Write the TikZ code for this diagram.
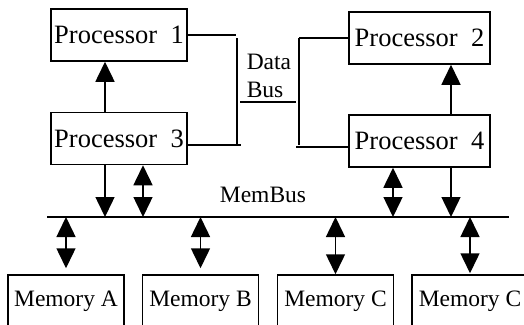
\documentclass[tikz,border=0pt]{standalone}
\usepackage{fontspec}
\setmainfont{Liberation Serif}
\usetikzlibrary{arrows.meta}

\begin{document}
\begin{tikzpicture}
[x=1pt,y=-1pt,line width=1.5pt,>={Triangle[length=20pt,width=19pt]},
proc/.style={rectangle,draw=black,line width=1.5pt,inner sep=0pt,minimum height=52pt,font=\fontsize{26.5}{30}\selectfont},
mem/.style={rectangle,draw=black,line width=1.5pt,inner sep=0pt,minimum width=116pt,minimum height=52pt,font=\fontsize{23.5}{28}\selectfont},
lbl/.style={inner sep=0pt,font=\fontsize{23.5}{28}\selectfont}]
\useasboundingbox (0,0) rectangle (524,324);
\clip (0,0) rectangle (524,324);
\fill[white] (0,0) rectangle (524,324);
\node[proc,minimum width=136pt] at (119,35) (p1) {Processor~~1};
\node[proc,minimum width=136pt] at (119,138.5) (p3) {Processor~~3};
\node[proc,minimum width=141pt] at (419.5,38) (p2) {Processor~~2};
\node[proc,minimum width=141pt] at (419.5,141) (p4) {Processor~~4};
\node[mem] at (66,301) (ma) {Memory A};
\node[mem] at (200.5,301) (mb) {Memory B};
\node[mem] at (335.5,301) (mc) {Memory C};
\node[mem] at (470,301) (md) {Memory C};
\node[lbl,anchor=north west,align=left] at (246,53) (db) {Data\\Bus};
\node[lbl,anchor=base] at (263,202) (mbus) {MemBus};
% data bus
\coordinate (dl1) at (237,38);
\coordinate (dl2) at (237,144);
\coordinate (dr1) at (299,38);
\coordinate (dr2) at (299,145);
\coordinate (dm) at (240,102);
\draw (p1.east) -- ++(48,0);
\draw ([yshift=-6.5pt]p3.east) -- ++(53,0);
\draw (dl1) -- (dl2);
\draw (dr1) -- (dr2);
\draw (dm) -- ++(56,0);
\draw (p2.west) -- (dr1);
\draw ([yshift=-6pt]p4.west) -- ++(-52,0);
% memory bus
\coordinate (bus1) at (47,217);
\coordinate (bus2) at (509,217);
\draw (bus1) -- (bus2);
\draw[->] ([xshift=-14pt]p3.north) -- ([xshift=-14pt]p1.south);
\draw[->] ([xshift=31.5pt]p4.north) -- ([xshift=31.5pt]p2.south);
\draw[->] ([xshift=-14pt]p3.south) -- ([xshift=-14pt]p3.south |- bus1);
\draw[<->] ([xshift=24pt]p3.south) -- ([xshift=24pt]p3.south |- bus1);
\draw[<->] ([xshift=-26.5pt]p4.south) -- ([xshift=-26.5pt]p4.south |- bus1);
\draw[->] ([xshift=31.5pt]p4.south) -- ([xshift=31.5pt]p4.south |- bus1);
\draw[<->] (ma.north |- bus1) -- ([yshift=6pt]ma.north);
\draw[<->] (mb.north |- bus1) -- ([yshift=6pt]mb.north);
\draw[<->] (mc.north |- bus1) -- (mc.north);
\draw[<->] (md.north |- bus1) -- ([yshift=1pt]md.north);
\end{tikzpicture}
\end{document}
